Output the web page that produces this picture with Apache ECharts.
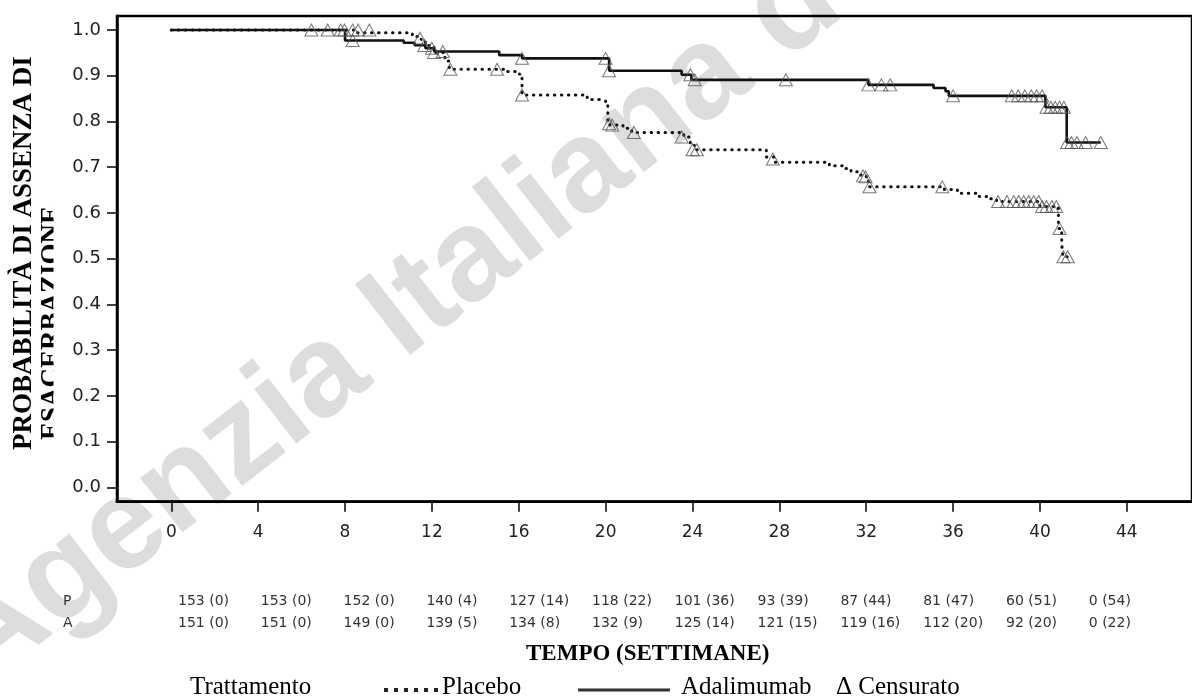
<!DOCTYPE html>
<html>
<head>
<meta charset="utf-8">
<script src="https://cdn.jsdelivr.net/npm/echarts@6/dist/echarts.min.js"></script>
<style>
html,body{margin:0;padding:0;background:#fff;}
#chart{width:1192px;height:700px;}
</style>
</head>
<body>
<div id="chart"></div>
<script>
// ---------- data ----------
const xTicks = [0, 4, 8, 12, 16, 20, 24, 28, 32, 36, 40, 44];
const yTicks = [0.0, 0.1, 0.2, 0.3, 0.4, 0.5, 0.6, 0.7, 0.8, 0.9, 1.0];

const placeboTimes = [0, 8.4, 11.1, 11.5, 11.7, 12.1, 12.6, 12.8, 15.4, 15.9, 16.05, 16.15, 19.15, 19.7, 20.0, 20.1, 20.2, 20.8, 21.2, 23.6, 23.9, 24.1, 27.4, 27.8, 30.3, 30.9, 31.3, 31.6, 32.0, 32.1, 35.6, 36.2, 37.2, 37.6, 38.0, 40.0, 40.85, 41.0, 41.05, 41.3];
const placeboSurv  = [1.0, 0.994, 0.986, 0.979, 0.966, 0.951, 0.932, 0.914, 0.909, 0.904, 0.898, 0.858, 0.848, 0.845, 0.840, 0.800, 0.792, 0.785, 0.776, 0.766, 0.748, 0.738, 0.722, 0.711, 0.703, 0.697, 0.690, 0.683, 0.677, 0.657, 0.651, 0.643, 0.636, 0.631, 0.625, 0.614, 0.566, 0.534, 0.504, 0.504];

const adaTimes = [0, 8.0, 10.7, 11.2, 11.7, 12.1, 15.1, 16.15, 20.16, 23.5, 23.95, 32.1, 35.1, 35.65, 35.8, 40.25, 41.23, 42.8];
const adaSurv  = [1.0, 0.977, 0.972, 0.967, 0.960, 0.953, 0.945, 0.938, 0.911, 0.902, 0.891, 0.880, 0.873, 0.866, 0.856, 0.831, 0.754, 0.754];

const placeboCensTimes = [7.97, 8.35, 8.6, 9.12, 11.45, 11.65, 12.1, 12.85, 15.0, 16.15, 20.16, 20.3, 21.3, 23.5, 24.0, 24.2, 27.7, 31.85, 31.97, 32.15, 35.5, 38.07, 38.48, 38.79, 39.02, 39.25, 39.48, 39.71, 39.94, 40.1, 40.3, 40.55, 40.75, 40.9, 41.08, 41.28];
const placeboCensSurv  = [1.0, 1.0, 1.0, 1.0, 0.982, 0.966, 0.951, 0.914, 0.914, 0.858, 0.795, 0.792, 0.776, 0.766, 0.738, 0.738, 0.718, 0.681, 0.679, 0.657, 0.657, 0.625, 0.625, 0.625, 0.625, 0.625, 0.625, 0.625, 0.625, 0.614, 0.614, 0.614, 0.614, 0.566, 0.504, 0.504];

const adaCensTimes = [6.45, 7.2, 7.8, 8.35, 12.0, 12.5, 16.15, 20.0, 20.16, 23.9, 24.1, 28.3, 32.1, 32.7, 33.1, 36.0, 38.7, 39.0, 39.3, 39.6, 39.85, 40.1, 40.3, 40.5, 40.7, 40.9, 41.1, 41.25, 41.45, 41.7, 42.1, 42.8];
const adaCensSurv  = [1.0, 1.0, 1.0, 0.977, 0.960, 0.953, 0.938, 0.938, 0.911, 0.902, 0.891, 0.891, 0.880, 0.880, 0.880, 0.856, 0.856, 0.856, 0.856, 0.856, 0.856, 0.856, 0.831, 0.831, 0.831, 0.831, 0.831, 0.754, 0.754, 0.754, 0.754, 0.754];

const riskLabels = ['P', 'A'];
const riskP = ['153 (0)', '153 (0)', '152 (0)', '140 (4)', '127 (14)', '118 (22)', '101 (36)', '93 (39)', '87 (44)', '81 (47)', '60 (51)', '0 (54)'];
const riskA = ['151 (0)', '151 (0)', '149 (0)', '139 (5)', '134 (8)', '132 (9)', '125 (14)', '121 (15)', '119 (16)', '112 (20)', '92 (20)', '0 (22)'];

const yTitle1 = 'PROBABILITÀ DI ASSENZA DI';
const yTitle2 = 'ESACERBAZIONE';
const xTitle = 'TEMPO (SETTIMANE)';
const legendTitle = 'Trattamento';
const seriesNames = ['Placebo', 'Adalimumab'];
const censorLabel = 'Δ Censurato';
const watermark = 'Agenzia Italiana del Farmaco';

// ---------- build ----------
const zip = (a, b) => a.map((v, i) => [v, b[i]]);
const serif = 'Liberation Serif';
const sans = 'DejaVu Sans';

const graphics = [];
// watermark
graphics.push({
  type: 'text', x: 0, y: 712, rotation: 38 * Math.PI / 180, z: -10, silent: true,
  style: { text: watermark, fill: '#dddddd', font: 'bold 130px "Liberation Sans"', textAlign: 'left', textVerticalAlign: 'bottom' }
});
// y title (two lines, second one clipped as in reference)
graphics.push({
  type: 'text', x: 24, y: 450, rotation: Math.PI / 2, z: 5,
  style: { text: yTitle1, fill: '#000', font: 'bold 27px "' + serif + '"', textAlign: 'left', textVerticalAlign: 'middle' }
});
graphics.push({
  type: 'text', x: 52, y: 440, rotation: Math.PI / 2, z: 5,
  style: { text: yTitle2, fill: '#000', font: 'bold 27px "' + serif + '"', textAlign: 'left', textVerticalAlign: 'middle' }
});
graphics.push({
  type: 'rect', shape: { x: 53.5, y: 30, width: 16, height: 460 }, z: 6, silent: true,
  style: { fill: '#fff' }
});
// risk table
const colX0 = 178, colStep = 82.8, rowY = [601, 623];
[riskP, riskA].forEach((row, r) => {
  graphics.push({ type: 'text', x: 63, y: rowY[r], style: { text: riskLabels[r], fill: '#333', font: '14px "' + sans + '"', textAlign: 'left', textVerticalAlign: 'middle' } });
  row.forEach((t, i) => {
    graphics.push({ type: 'text', x: colX0 + colStep * i, y: rowY[r], style: { text: t, fill: '#333', font: '14px "' + sans + '"', textAlign: 'left', textVerticalAlign: 'middle' } });
  });
});
// x title
graphics.push({ type: 'text', x: 526, y: 654, style: { text: xTitle, fill: '#000', font: 'bold 23px "' + serif + '"', textAlign: 'left', textVerticalAlign: 'middle' } });
// legend row
const legY = 687;
const legFont = '25px "' + serif + '"';
graphics.push({ type: 'text', x: 190, y: legY, style: { text: legendTitle, fill: '#000', font: legFont, textAlign: 'left', textVerticalAlign: 'middle' } });
graphics.push({ type: 'line', shape: { x1: 384, y1: legY + 3, x2: 441, y2: legY + 3 }, style: { stroke: '#222', lineWidth: 4, lineDash: [4, 6] } });
graphics.push({ type: 'text', x: 442, y: legY, style: { text: seriesNames[0], fill: '#000', font: legFont, textAlign: 'left', textVerticalAlign: 'middle' } });
graphics.push({ type: 'line', shape: { x1: 578, y1: legY + 3, x2: 670, y2: legY + 3 }, style: { stroke: '#333', lineWidth: 3 } });
graphics.push({ type: 'text', x: 681, y: legY, style: { text: seriesNames[1], fill: '#000', font: legFont, textAlign: 'left', textVerticalAlign: 'middle' } });
graphics.push({ type: 'text', x: 836, y: legY, style: { text: censorLabel, fill: '#000', font: legFont, textAlign: 'left', textVerticalAlign: 'middle' } });

const censorStyle = { color: 'rgba(0,0,0,0)', borderColor: '#555', borderWidth: 1 };

const option = {
  animation: false,
  backgroundColor: '#fff',
  grid: { left: 117, right: -1, top: 16, bottom: 198.3, show: true, borderColor: '#000', borderWidth: 2.5, backgroundColor: 'rgba(0,0,0,0)' },
  xAxis: {
    type: 'value', min: -2.5, max: 47,
    axisLine: { show: true, onZero: false, lineStyle: { color: '#000', width: 2.5 } },
    axisTick: { show: true, length: 10, customValues: xTicks, lineStyle: { color: '#000', width: 1.5 } },
    axisLabel: { customValues: xTicks, fontFamily: sans, fontSize: 17, color: '#222', margin: 22 },
    splitLine: { show: false }
  },
  yAxis: {
    type: 'value', min: -0.0315, max: 1.0306,
    axisLine: { show: true, onZero: false, lineStyle: { color: '#000', width: 2.5 } },
    axisTick: { show: true, length: 10, customValues: yTicks, lineStyle: { color: '#000', width: 1.5 } },
    axisLabel: { customValues: yTicks, fontFamily: sans, fontSize: 18, color: '#222', margin: 16, formatter: v => v.toFixed(1) },
    splitLine: { show: false }
  },
  graphic: graphics,
  series: [
    {
      name: seriesNames[0], type: 'line', step: 'end', showSymbol: false, z: 3,
      data: zip(placeboTimes, placeboSurv),
      lineStyle: { color: '#111', width: 3, type: [0.5, 6.5], cap: 'round' }
    },
    {
      name: seriesNames[1], type: 'line', step: 'end', showSymbol: false, z: 4,
      data: zip(adaTimes, adaSurv),
      lineStyle: { color: '#111', width: 2.6 }
    },
    {
      name: 'Censurato Placebo', type: 'scatter', symbol: 'triangle', symbolSize: [13, 12], z: 5,
      data: zip(placeboCensTimes, placeboCensSurv), itemStyle: censorStyle
    },
    {
      name: 'Censurato Adalimumab', type: 'scatter', symbol: 'triangle', symbolSize: [13, 12], z: 5,
      data: zip(adaCensTimes, adaCensSurv), itemStyle: censorStyle
    }
  ]
};

const chart = echarts.init(document.getElementById('chart'), null, { renderer: 'canvas' });
chart.setOption(option);
</script>
</body>
</html>
